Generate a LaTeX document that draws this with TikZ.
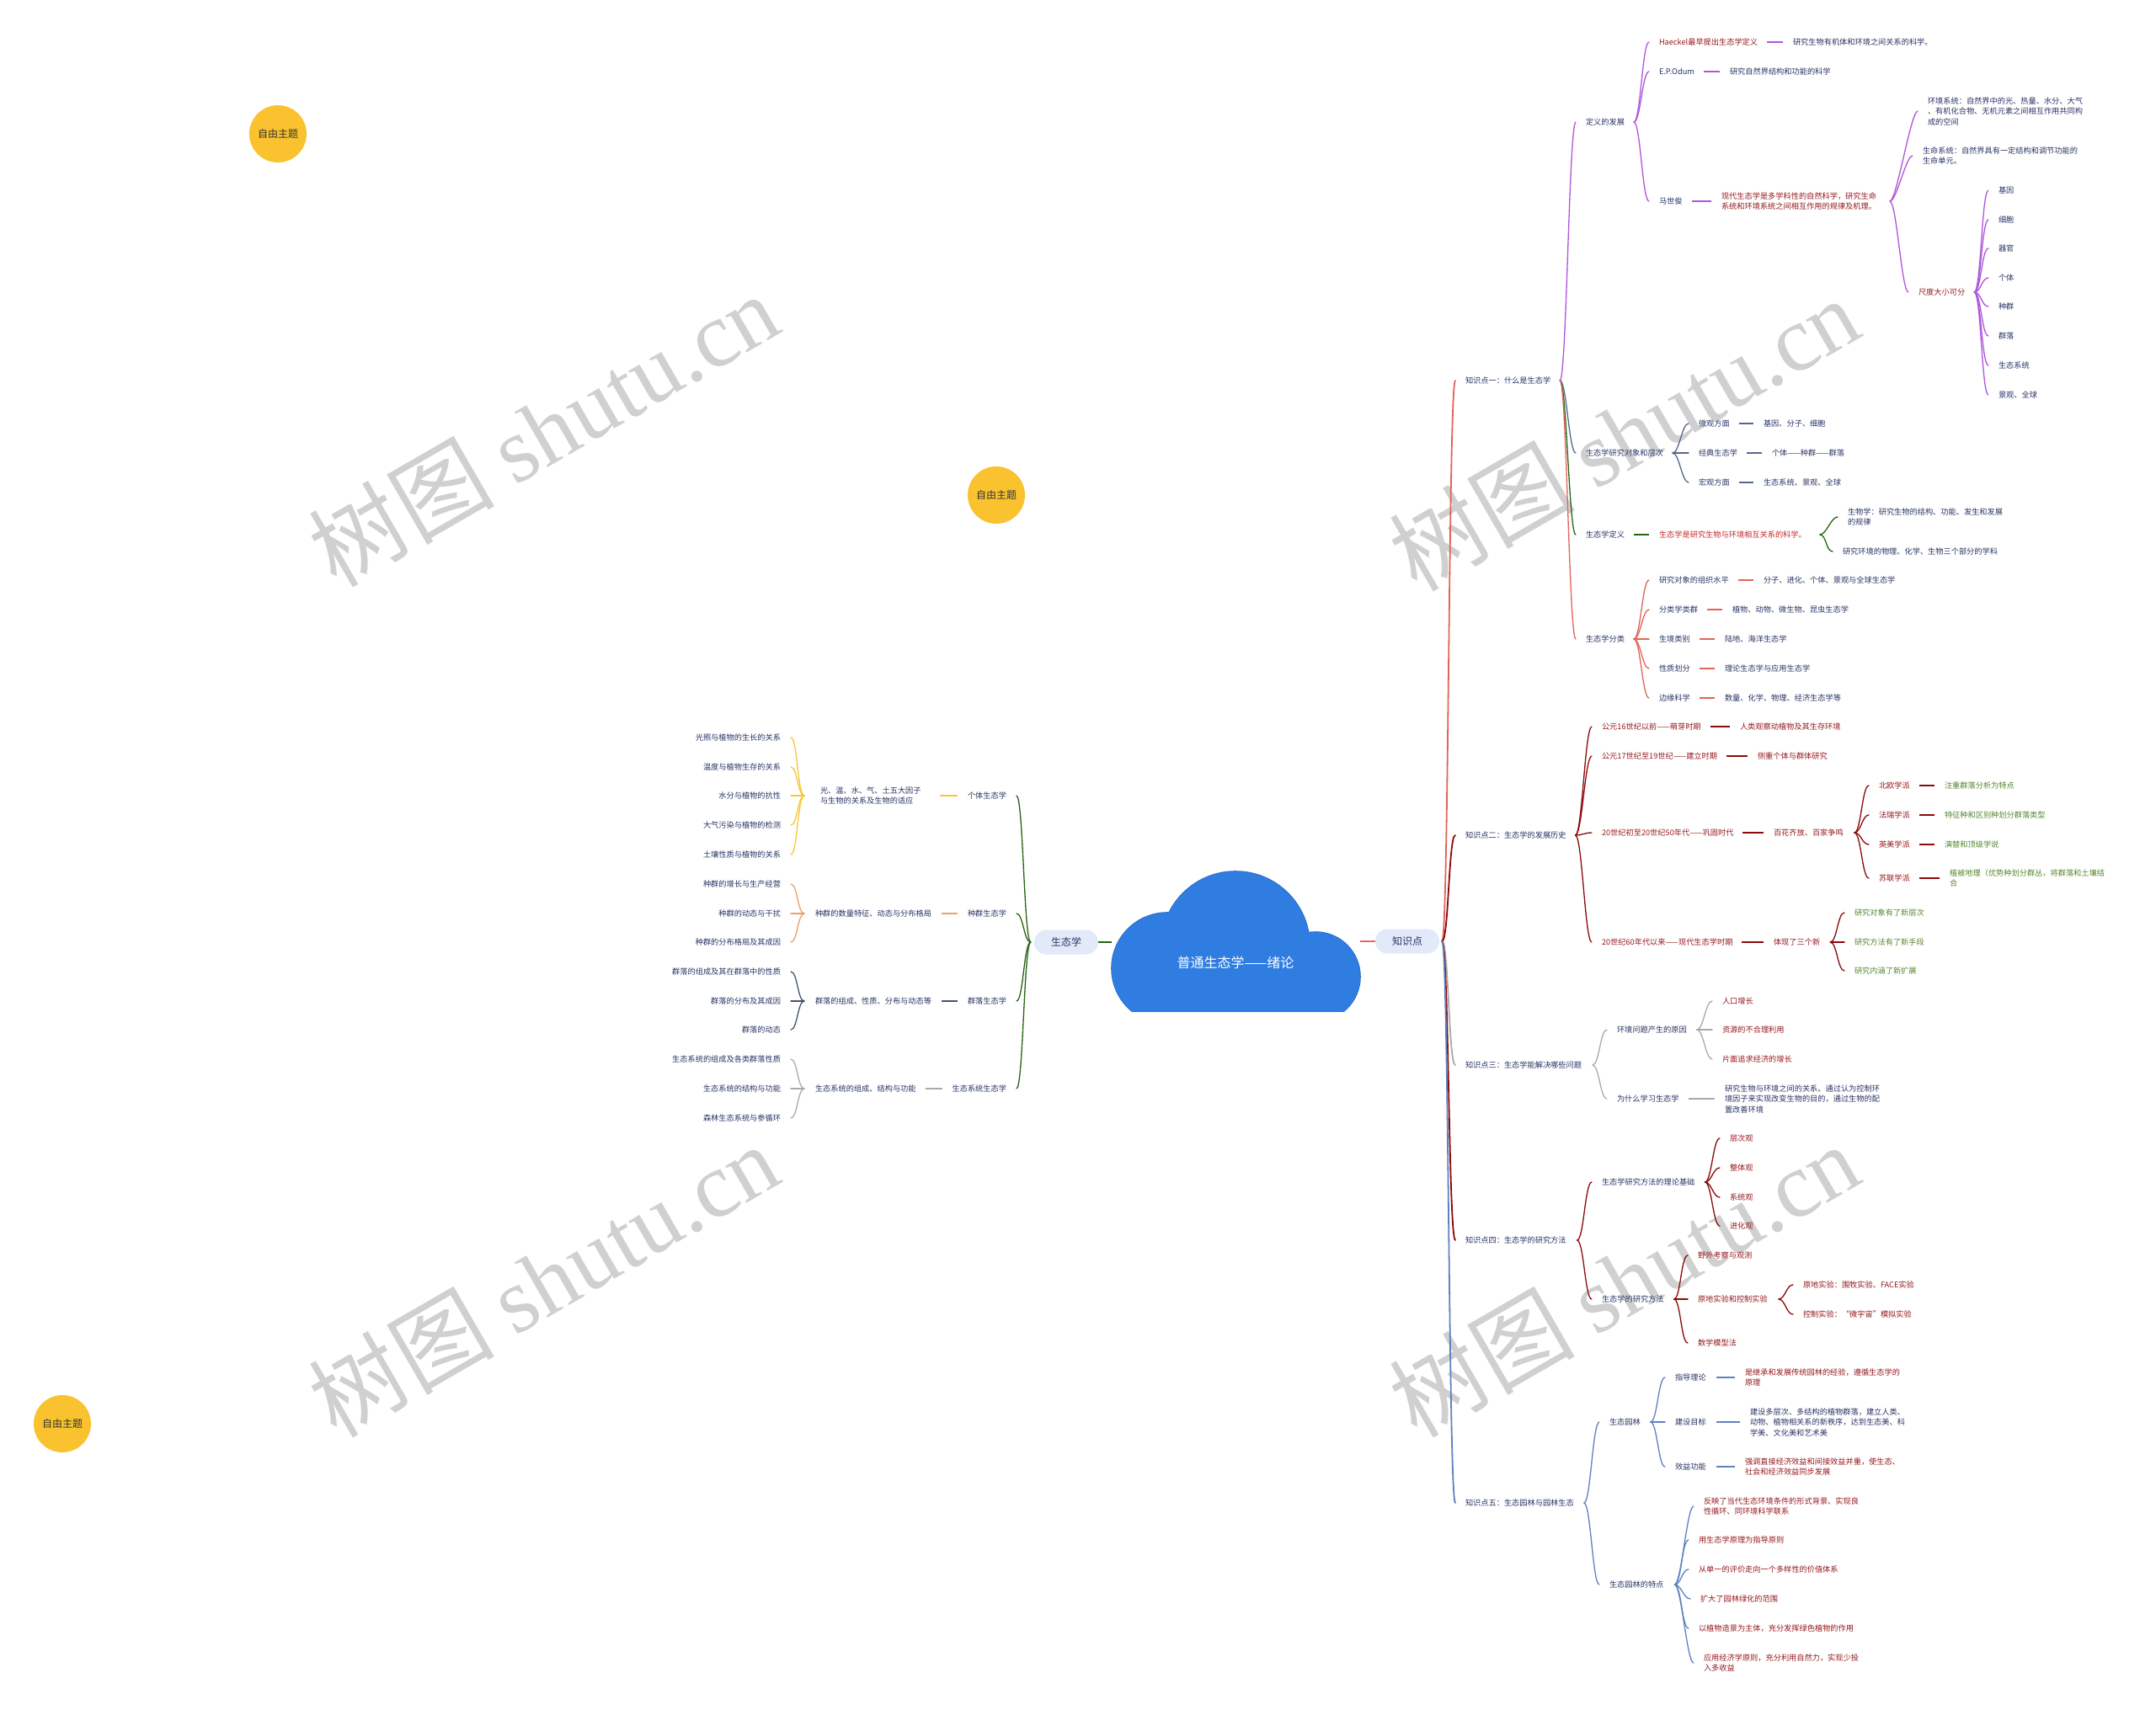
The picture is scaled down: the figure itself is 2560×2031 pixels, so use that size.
\documentclass[tikz,border=0pt]{standalone}
\usepackage{fontspec}
\setmainfont{Noto Sans CJK SC}
\newfontfamily\wmfont{Liberation Serif}
\usetikzlibrary{calc}
\definecolor{mnavy}{RGB}{40,52,100}
\definecolor{dred}{RGB}{150,25,30}
\definecolor{bred}{RGB}{200,40,40}
\definecolor{tgreen}{RGB}{85,135,45}
\definecolor{cpurple}{RGB}{175,85,220}
\definecolor{cslate}{RGB}{85,105,140}
\definecolor{cgreen}{RGB}{40,100,20}
\definecolor{csalmon}{RGB}{225,100,90}
\definecolor{cdred}{RGB}{140,10,10}
\definecolor{cgray}{RGB}{170,170,170}
\definecolor{csteel}{RGB}{95,130,190}
\definecolor{cyellow}{RGB}{245,200,60}
\definecolor{corange}{RGB}{238,160,100}
\definecolor{cslatetwo}{RGB}{70,85,110}
\definecolor{cloudblue}{RGB}{47,125,225}
\definecolor{cloudedge}{RGB}{40,105,200}
\definecolor{kfill}{RGB}{226,233,248}
\definecolor{ftopic}{RGB}{249,194,46}
\definecolor{wmgray}{RGB}{208,208,208}
\definecolor{kred}{RGB}{230,100,100}
\newcommand\mmfs{\fontsize{9.2}{12.5}\selectfont}
% curve to the right: [gap]{colour}{parent}{child}
\newcommand\mmR[4][11]{\draw[mmbr,#2] ([xshift=#1pt]#3.east) .. controls +(8pt,0pt) and +(-8pt,0pt) .. ([xshift=-12pt]#4.west);}
% curve to the left
\newcommand\mmL[4][13]{\draw[mmbr,#2] ([xshift=-#1pt]#3.west) .. controls +(-8pt,0pt) and +(8pt,0pt) .. ([xshift=12pt]#4.east);}
% short dash
\newcommand\mmD[4][11]{\draw[mmdash,#2] ([xshift=#1pt]#3.east) -- ([xshift=-12pt]#4.west);}
\begin{document}
\begin{tikzpicture}[x=1pt,y=-1pt,
  mmbase/.style={inner sep=0pt, outer sep=0pt, font=\mmfs},
  rt/.style={mmbase, anchor=west, align=left},
  lf/.style={mmbase, anchor=east, align=right},
  nv/.style={text=mnavy}, rd/.style={text=dred}, gn/.style={text=tgreen}, brd/.style={text=bred},
  mmbr/.style={line width=1.3pt, line cap=round},
  mmdash/.style={line width=2.4pt},
  topic/.style={rounded corners=14.5pt, fill=kfill, minimum width=76pt, minimum height=29pt, inner sep=0pt, text=mnavy, font=\fontsize{12}{14}\selectfont},
  freetopic/.style={circle, fill=ftopic, minimum size=68pt, inner sep=0pt, text=black!80, font=\fontsize{12}{14}\selectfont},
  wmk/.style={rotate=30, text=wmgray, font=\fontsize{110}{110}\selectfont, inner sep=0pt}
]
\fill[white] (0,0) rectangle (2560,2031);
\useasboundingbox (0,0) rectangle (2560,2031);
% watermarks
\node[wmk] (w1) at (645,510) {树图 {\wmfont shutu.cn}};
\node[wmk] (w2) at (1928,515) {树图 {\wmfont shutu.cn}};
\node[wmk] (w3) at (645,1520) {树图 {\wmfont shutu.cn}};
\node[wmk] (w4) at (1928,1520) {树图 {\wmfont shutu.cn}};
% cloud
\begin{scope}
\clip (1300,1000) rectangle (1640,1203);
\draw[cloudedge, line width=1.6pt] (1467,1123) circle (88pt);
\draw[cloudedge, line width=1.6pt] (1386,1150) circle (66pt);
\draw[cloudedge, line width=1.6pt] (1562,1160) circle (53pt);
\fill[cloudblue] (1467,1123) circle (88pt);
\fill[cloudblue] (1386,1150) circle (66pt);
\fill[cloudblue] (1562,1160) circle (53pt);
\fill[cloudblue] (1386,1120) rectangle (1562,1202);
\end{scope}
\fill[white] (1300,1202) rectangle (1640,1230);
\node[font=\fontsize{16}{18}\selectfont, text=white, inner sep=0pt] (C) at (1467,1143) {普通生态学——绪论};
\coordinate (cL) at (1320,1119);
\coordinate (cR) at (1615,1118);
\node[topic] (K) at (1671,1118) {知识点};
\node[topic] (S) at (1266,1119) {生态学};
\draw[line width=2.4pt, kred] (cR) -- (K.west);
\draw[line width=2.4pt, cgreen] (S.east) -- (cL);
% free topics
\node[freetopic] (ft1) at (330,159) {自由主题};
\node[freetopic] (ft2) at (1183,588) {自由主题};
\node[freetopic] (ft3) at (74,1691) {自由主题};
% ---------------- right side
\node[rt,nv] (k1) at (1740,452) {知识点一：什么是生态学};
\node[rt,nv] (k2) at (1740,992) {知识点二：生态学的发展历史};
\node[rt,nv] (k3) at (1740,1265) {知识点三：生态学能解决哪些问题};
\node[rt,nv] (k4) at (1740,1473) {知识点四：生态学的研究方法};
\node[rt,nv] (k5) at (1740,1785) {知识点五：生态园林与园林生态};
\draw[mmbr,line width=1.8pt,csalmon] ([xshift=3pt]K.east) .. controls +(8pt,0pt) and +(-8pt,0pt) .. ([xshift=-12pt]k1.west);
\draw[mmbr,line width=1.8pt,cdred] ([xshift=3pt]K.east) .. controls +(8pt,0pt) and +(-8pt,0pt) .. ([xshift=-12pt]k2.west);
\draw[mmbr,line width=1.8pt,cgray] ([xshift=3pt]K.east) .. controls +(8pt,0pt) and +(-8pt,0pt) .. ([xshift=-12pt]k3.west);
\draw[mmbr,line width=1.8pt,cdred] ([xshift=3pt]K.east) .. controls +(8pt,0pt) and +(-8pt,0pt) .. ([xshift=-12pt]k4.west);
\draw[mmbr,line width=1.8pt,csteel] ([xshift=3pt]K.east) .. controls +(8pt,0pt) and +(-8pt,0pt) .. ([xshift=-12pt]k5.west);
% k1
\node[rt,nv] (a1) at (1883,145) {定义的发展};
\node[rt,nv] (a2) at (1883,538) {生态学研究对象和层次};
\node[rt,nv] (a3) at (1883,635) {生态学定义};
\node[rt,nv] (a4) at (1883,759) {生态学分类};
\mmR{cpurple}{k1}{a1}
\mmR{cslate}{k1}{a2}
\mmR{cgreen}{k1}{a3}
\mmR{csalmon}{k1}{a4}
% a1
\node[rt,rd] (b1) at (1970,50) {Haeckel最早提出生态学定义};
\node[rt,nv] (b1c) at (2129,50) {研究生物有机体和环境之间关系的科学。};
\node[rt,nv] (b2) at (1970,85) {E.P.Odum};
\node[rt,nv] (b2c) at (2054,85) {研究自然界结构和功能的科学};
\node[rt,nv] (b3) at (1970,239) {马世俊};
\node[rt,rd] (b3c) at (2044,239) {现代生态学是多学科性的自然科学，研究生命\\系统和环境系统之间相互作用的规律及机理。};
\foreach \c in {b1,b2,b3} {\mmR{cpurple}{a1}{\c}}
\mmD{cpurple}{b1}{b1c}
\mmD{cpurple}{b2}{b2c}
\mmD{cpurple}{b3}{b3c}
\node[rt,nv] (c1) at (2289,132) {环境系统：自然界中的光、热量、水分、大气\\、有机化合物、无机元素之间相互作用共同构\\成的空间};
\node[rt,nv] (c2) at (2283,185) {生命系统：自然界具有一定结构和调节功能的\\生命单元。};
\node[rt,rd] (c3) at (2278,347) {尺度大小可分};
\foreach \c in {c1,c2,c3} {\mmR[16]{cpurple}{b3c}{\c}}
\node[rt,nv] (s1) at (2373,226) {基因};
\node[rt,nv] (s2) at (2373,261) {细胞};
\node[rt,nv] (s3) at (2373,295) {器官};
\node[rt,nv] (s4) at (2373,330) {个体};
\node[rt,nv] (s5) at (2373,364) {种群};
\node[rt,nv] (s6) at (2373,399) {群落};
\node[rt,nv] (s7) at (2373,434) {生态系统};
\node[rt,nv] (s8) at (2373,469) {景观、全球};
\foreach \c in {s1,s2,s3,s4,s5,s6,s7,s8} {\mmR{cpurple}{c3}{\c}}
% a2
\node[rt,nv] (d1) at (2017,503) {微观方面};
\node[rt,nv] (d1c) at (2094,503) {基因、分子、细胞};
\node[rt,nv] (d2) at (2017,538) {经典生态学};
\node[rt,nv] (d2c) at (2104,538) {个体——种群——群落};
\node[rt,nv] (d3) at (2017,573) {宏观方面};
\node[rt,nv] (d3c) at (2094,573) {生态系统、景观、全球};
\foreach \c in {d1,d2,d3} {\mmR{cslate}{a2}{\c}}
\mmD{cslate}{d1}{d1c}
\mmD{cslate}{d2}{d2c}
\mmD{cslate}{d3}{d3c}
% a3
\node[rt,brd] (e1) at (1970,635) {生态学是研究生物与环境相互关系的科学。};
\mmD{cgreen}{a3}{e1}
\node[rt,nv] (e1a) at (2194,614) {生物学：研究生物的结构、功能、发生和发展\\的规律};
\node[rt,nv] (e1b) at (2188,655) {研究环境的物理、化学、生物三个部分的学科};
\mmR[16]{cgreen}{e1}{e1a}
\mmR[16]{cgreen}{e1}{e1b}
% a4
\node[rt,nv] (f1) at (1970,689) {研究对象的组织水平};
\node[rt,nv] (f1c) at (2094,689) {分子、进化、个体、景观与全球生态学};
\node[rt,nv] (f2) at (1970,724) {分类学类群};
\node[rt,nv] (f2c) at (2057,724) {植物、动物、微生物、昆虫生态学};
\node[rt,nv] (f3) at (1970,759) {生境类别};
\node[rt,nv] (f3c) at (2048,759) {陆地、海洋生态学};
\node[rt,nv] (f4) at (1970,794) {性质划分};
\node[rt,nv] (f4c) at (2048,794) {理论生态学与应用生态学};
\node[rt,nv] (f5) at (1970,829) {边缘科学};
\node[rt,nv] (f5c) at (2048,829) {数量、化学、物理、经济生态学等};
\foreach \c in {f1,f2,f3,f4,f5} {\mmR{csalmon}{a4}{\c}}
\foreach \c in {f1,f2,f3,f4,f5} {\mmD{csalmon}{\c}{\c c}}
% k2
\node[rt,rd] (g1) at (1902,863) {公元16世纪以前——萌芽时期};
\node[rt,rd] (g1c) at (2066,863) {人类观察动植物及其生存环境};
\node[rt,rd] (g2) at (1902,898) {公元17世纪至19世纪——建立时期};
\node[rt,rd] (g2c) at (2087,898) {侧重个体与群体研究};
\node[rt,rd] (g3) at (1902,989) {20世纪初至20世纪50年代——巩固时代};
\node[rt,rd] (g3c) at (2106,989) {百花齐放、百家争鸣};
\node[rt,rd] (g4) at (1902,1119) {20世纪60年代以来——现代生态学时期};
\node[rt,rd] (g4c) at (2106,1119) {体现了三个新};
\foreach \c in {g1,g2,g3,g4} {\mmR{cdred}{k2}{\c}}
\foreach \c in {g1,g2,g3,g4} {\mmD{cdred}{\c}{\c c}}
\node[rt,rd] (h1) at (2231,933) {北欧学派};
\node[rt,gn] (h1c) at (2309,933) {注重群落分析为特点};
\node[rt,rd] (h2) at (2231,968) {法瑞学派};
\node[rt,gn] (h2c) at (2309,968) {特征种和区别种划分群落类型};
\node[rt,rd] (h3) at (2231,1003) {英美学派};
\node[rt,gn] (h3c) at (2309,1003) {演替和顶级学说};
\node[rt,rd] (h4) at (2231,1043) {苏联学派};
\node[rt,gn] (h4c) at (2315,1043) {植被地理（优势种划分群丛，将群落和土壤结\\合};
\foreach \c in {h1,h2,h3,h4} {\mmR[13]{cdred}{g3c}{\c}}
\foreach \c in {h1,h2,h3,h4} {\mmD{cdred}{\c}{\c c}}
\node[rt,gn] (i1) at (2202,1084) {研究对象有了新层次};
\node[rt,gn] (i2) at (2202,1119) {研究方法有了新手段};
\node[rt,gn] (i3) at (2202,1153) {研究内涵了新扩展};
\foreach \c in {i1,i2,i3} {\mmR[12]{cdred}{g4c}{\c}}
% k3
\node[rt,nv] (j1) at (1920,1223) {环境问题产生的原因};
\node[rt,nv] (j2) at (1920,1305) {为什么学习生态学};
\mmR[13]{cgray}{k3}{j1}
\mmR[13]{cgray}{k3}{j2}
\node[rt,rd] (j1a) at (2045,1189) {人口增长};
\node[rt,rd] (j1b) at (2045,1223) {资源的不合理利用};
\node[rt,rd] (j1c) at (2045,1258) {片面追求经济的增长};
\foreach \c in {j1a,j1b,j1c} {\mmR[12]{cgray}{j1}{\c}}
\node[rt,nv] (j2c) at (2048,1305) {研究生物与环境之间的关系。通过认为控制环\\境因子来实现改变生物的目的，通过生物的配\\置改善环境};
\mmD{cgray}{j2}{j2c}
% k4
\node[rt,nv] (l1) at (1902,1404) {生态学研究方法的理论基础};
\node[rt,nv] (l2) at (1902,1543) {生态学的研究方法};
\mmR[13]{cdred}{k4}{l1}
\mmR[13]{cdred}{k4}{l2}
\node[rt,rd] (l1a) at (2054,1352) {层次观};
\node[rt,rd] (l1b) at (2054,1387) {整体观};
\node[rt,rd] (l1c) at (2054,1422) {系统观};
\node[rt,rd] (l1d) at (2054,1456) {进化观};
\foreach \c in {l1a,l1b,l1c,l1d} {\mmR[12]{cdred}{l1}{\c}}
\node[rt,rd] (m1) at (2016,1491) {野外考察与观测};
\node[rt,rd] (m2) at (2016,1543) {原地实验和控制实验};
\node[rt,rd] (m3) at (2016,1595) {数学模型法};
\foreach \c in {m1,m2,m3} {\mmR[12]{cdred}{l2}{\c}}
\node[rt,rd] (m2a) at (2141,1526) {原地实验：围牧实验、FACE实验};
\node[rt,rd] (m2b) at (2141,1561) {控制实验：“微宇宙”模拟实验};
\mmR[13]{cdred}{m2}{m2a}
\mmR[13]{cdred}{m2}{m2b}
% k5
\node[rt,nv] (n1) at (1911,1689) {生态园林};
\node[rt,nv] (n2) at (1911,1882) {生态园林的特点};
\mmR[12]{csteel}{k5}{n1}
\mmR[12]{csteel}{k5}{n2}
\node[rt,nv] (o1) at (1989,1636) {指导理论};
\node[rt,rd] (o1c) at (2072,1636) {是继承和发展传统园林的经验，遵循生态学的\\原理};
\node[rt,nv] (o2) at (1989,1689) {建设目标};
\node[rt,nv] (o2c) at (2078,1689) {建设多层次、多结构的植物群落，建立人类、\\动物、植物相关系的新秩序，达到生态美、科\\学美、文化美和艺术美};
\node[rt,nv] (o3) at (1989,1742) {效益功能};
\node[rt,rd] (o3c) at (2072,1742) {强调直接经济效益和间接效益并重，使生态、\\社会和经济效益同步发展};
\foreach \c in {o1,o2,o3} {\mmR[12]{csteel}{n1}{\c}}
\foreach \c in {o1,o2,o3} {\mmD[12]{csteel}{\c}{\c c}}
\node[rt,rd] (p1) at (2023,1789) {反映了当代生态环境条件的形式背景、实现良\\性循环、同环境科学联系};
\node[rt,rd] (p2) at (2017,1829) {用生态学原理为指导原则};
\node[rt,rd] (p3) at (2017,1864) {从单一的评价走向一个多样性的价值体系};
\node[rt,rd] (p4) at (2019,1899) {扩大了园林绿化的范围};
\node[rt,rd] (p5) at (2017,1934) {以植物造景为主体，充分发挥绿色植物的作用};
\node[rt,rd] (p6) at (2023,1975) {应用经济学原则，充分利用自然力，实现少投\\入多收益};
\foreach \c in {p1,p2,p3,p4,p5,p6} {\mmR[13]{csteel}{n2}{\c}}
% ---------------- left side
\node[lf,nv] (L1) at (1195,945) {个体生态学};
\node[lf,nv] (L2) at (1195,1085) {种群生态学};
\node[lf,nv] (L3) at (1195,1189) {群落生态学};
\node[lf,nv] (L4) at (1195,1293) {生态系统生态学};
\foreach \c in {L1,L2,L3,L4} {\mmL[4]{cgreen}{S}{\c}}
\node[rt,nv] (M1) at (974,945) {光、温、水、气、土五大因子\\与生物的关系及生物的适应};
\node[rt,nv] (M2) at (968,1085) {种群的数量特征、动态与分布格局};
\node[rt,nv] (M3) at (968,1189) {群落的组成、性质、分布与动态等};
\node[rt,nv] (M4) at (968,1293) {生态系统的组成、结构与功能};
\mmD[22]{cyellow}{M1}{L1}
\mmD[12]{corange}{M2}{L2}
\mmD[12]{cslatetwo}{M3}{L3}
\mmD[11]{cgray}{M4}{L4}
\node[lf,nv] (Y1) at (927,876) {光照与植物的生长的关系};
\node[lf,nv] (Y2) at (927,911) {温度与植物生存的关系};
\node[lf,nv] (Y3) at (927,945) {水分与植物的抗性};
\node[lf,nv] (Y4) at (927,980) {大气污染与植物的检测};
\node[lf,nv] (Y5) at (927,1015) {土壤性质与植物的关系};
\foreach \c in {Y1,Y2,Y3,Y4,Y5} {\mmL[19]{cyellow}{M1}{\c}}
\node[lf,nv] (O1) at (927,1050) {种群的增长与生产经营};
\node[lf,nv] (O2) at (927,1085) {种群的动态与干扰};
\node[lf,nv] (O3) at (927,1119) {种群的分布格局及其成因};
\foreach \c in {O1,O2,O3} {\mmL{corange}{M2}{\c}}
\node[lf,nv] (Q1) at (927,1154) {群落的组成及其在群落中的性质};
\node[lf,nv] (Q2) at (927,1189) {群落的分布及其成因};
\node[lf,nv] (Q3) at (927,1223) {群落的动态};
\foreach \c in {Q1,Q2,Q3} {\mmL{cslatetwo}{M3}{\c}}
\node[lf,nv] (G1) at (927,1258) {生态系统的组成及各类群落性质};
\node[lf,nv] (G2) at (927,1293) {生态系统的结构与功能};
\node[lf,nv] (G3) at (927,1328) {森林生态系统与参循环};
\foreach \c in {G1,G2,G3} {\mmL{cgray}{M4}{\c}}
\end{tikzpicture}
\end{document}
